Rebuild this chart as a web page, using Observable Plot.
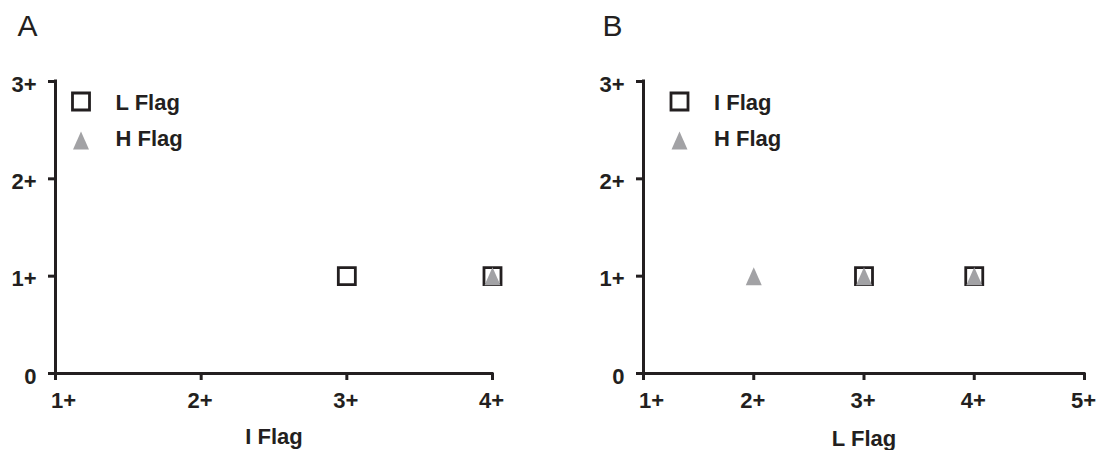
<!DOCTYPE html>
<html>
<head>
<meta charset="utf-8">
<script src="https://cdn.jsdelivr.net/npm/d3@7"></script>
<script src="https://cdn.jsdelivr.net/npm/@observablehq/plot@0.6"></script>
<style>
  html, body { margin: 0; padding: 0; background: #ffffff; }
  #wrap { display: flex; width: 1100px; height: 450px; }
  #wrap svg { overflow: visible; }
</style>
</head>
<body>
<div id="wrap"></div>
<script>
// ---- data ----
const panelTitles = ["A", "B"];
const xTicksA = [1, 2, 3, 4];
const xTicksB = [1, 2, 3, 4, 5];
const yTicks = [0, 1, 2, 3];
const xTitleA = "I Flag";
const xTitleB = "L Flag";
const legendA = ["L Flag", "H Flag"];
const legendB = ["I Flag", "H Flag"];
// Panel A: squares = L Flag, triangles = H Flag
const aSquareX = [3, 4];
const aSquareY = [1, 1];
const aTriX = [4];
const aTriY = [1];
// Panel B: squares = I Flag, triangles = H Flag
const bSquareX = [3, 4];
const bSquareY = [1, 1];
const bTriX = [2, 3, 4];
const bTriY = [1, 1, 1];

// ---- styling ----
const DARK = "#231f20";
const GREY = "#a2a2a5";
const FONT = "'Liberation Sans', Arial, Helvetica, sans-serif";
const fmt = d => d === 0 ? "0" : d + "+";

const triSymbol = {
  draw(ctx, size) {
    const r = Math.sqrt(size / Math.PI);
    const w = 0.8 * r, h = 0.9 * r;
    ctx.moveTo(0, -h);
    ctx.lineTo(w, h);
    ctx.lineTo(-w, h);
    ctx.closePath();
  }
};

function makePanel(cfg) {
  const pts = (xs, ys) => xs.map((x, i) => ({x, y: ys[i]}));
  const xDomain = [cfg.xTicks[0], cfg.xTicks[cfg.xTicks.length - 1]];
  return Plot.plot({
    width: 550,
    height: 450,
    marginLeft: cfg.mLeft,
    marginRight: cfg.mRight,
    marginTop: 81,
    marginBottom: 77,
    x: {domain: xDomain, axis: null},
    y: {domain: [0, 3], axis: null},
    style: {fontFamily: FONT, color: DARK, background: "white", overflow: "visible",
            fontSize: "22px", fontWeight: "bold"},
    marks: [
      Plot.ruleX([xDomain[0]], {stroke: DARK, strokeWidth: 3, strokeLinecap: "square"}),
      Plot.ruleY([0], {stroke: DARK, strokeWidth: 3, strokeLinecap: "square"}),
      Plot.axisY({ticks: yTicks, tickSize: 7, strokeWidth: 3, tickFormat: () => "", label: null}),
      Plot.axisX({ticks: cfg.xTicks, tickSize: 7, strokeWidth: 3, tickFormat: () => "", label: null}),
      Plot.axisY({ticks: yTicks, tickSize: 0, tickPadding: 19, dy: 3, tickFormat: fmt, label: null,
                  fontSize: 22, fontWeight: "bold"}),
      Plot.axisX({ticks: cfg.xTicks.slice(0, 1), tickSize: 0, tickPadding: 19, dx: 8, tickFormat: fmt, label: null,
                  fontSize: 22, fontWeight: "bold"}),
      Plot.axisX({ticks: cfg.xTicks.slice(1), tickSize: 0, tickPadding: 19, dx: -1, tickFormat: fmt, label: null,
                  fontSize: 22, fontWeight: "bold"}),
      Plot.text([cfg.xTitle], {frameAnchor: "bottom", dy: cfg.xTitleDy, lineAnchor: "middle",
                               fontSize: 22, fontWeight: "bold", fill: DARK}),
      Plot.text([cfg.title], {frameAnchor: "top-left", dx: cfg.titleDx, dy: -55, textAnchor: "start",
                              lineAnchor: "middle", fontSize: 30, fontWeight: "normal", fill: DARK}),
      Plot.dot(pts(cfg.sqX, cfg.sqY), {x: "x", y: "y", symbol: "square", r: 9.6, stroke: DARK, fill: "white", strokeWidth: 2.8}),
      Plot.dot(pts(cfg.trX, cfg.trY), {x: "x", y: "y", symbol: triSymbol, r: 10, fill: GREY, stroke: "none"}),
      Plot.dot([cfg.legend[0]], {frameAnchor: "top-left", dx: cfg.legDx, dy: 20, symbol: "square", r: 9.6,
                                 stroke: DARK, fill: "white", strokeWidth: 2.8}),
      Plot.dot([cfg.legend[1]], {frameAnchor: "top-left", dx: cfg.legDx, dy: 59, symbol: triSymbol, r: 10,
                                 fill: GREY, stroke: "none"}),
      Plot.text([cfg.legend[0]], {frameAnchor: "top-left", dx: cfg.legDx + 34.5, dy: 21, text: d => d,
                                  fontSize: 22, fontWeight: "bold", textAnchor: "start", lineAnchor: "middle", fill: DARK}),
      Plot.text([cfg.legend[1]], {frameAnchor: "top-left", dx: cfg.legDx + 34.5, dy: 57, text: d => d,
                                  fontSize: 22, fontWeight: "bold", textAnchor: "start", lineAnchor: "middle", fill: DARK})
    ]
  });
}

const wrap = document.getElementById("wrap");
wrap.appendChild(makePanel({
  title: panelTitles[0], xTicks: xTicksA, xTitle: xTitleA, legend: legendA,
  sqX: aSquareX, sqY: aSquareY, trX: aTriX, trY: aTriY,
  mLeft: 55, mRight: 58, legDx: 25.5, titleDx: -38, xTitleDy: 63
}));
wrap.appendChild(makePanel({
  title: panelTitles[1], xTicks: xTicksB, xTitle: xTitleB, legend: legendB,
  sqX: bSquareX, sqY: bSquareY, trX: bTriX, trY: bTriY,
  mLeft: 93, mRight: 16, legDx: 36, titleDx: -41, xTitleDy: 65
}));
</script>
</body>
</html>
